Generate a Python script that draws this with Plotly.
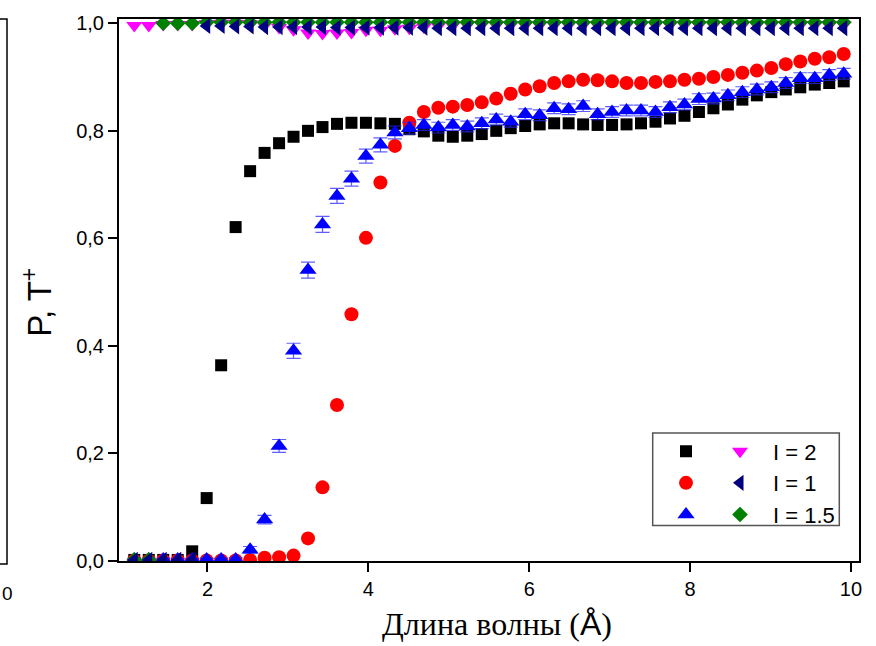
import plotly.graph_objects as go

# ---------------- data ----------------
wavelength = [1.09, 1.27, 1.45, 1.63, 1.81, 1.99, 2.17, 2.35, 2.53, 2.71,
              2.89, 3.07, 3.25, 3.43, 3.61, 3.79, 3.97, 4.15, 4.33, 4.51,
              4.69, 4.87, 5.05, 5.23, 5.41, 5.59, 5.77, 5.95, 6.13, 6.31,
              6.49, 6.67, 6.85, 7.03, 7.21, 7.39, 7.57, 7.75, 7.93, 8.11,
              8.29, 8.47, 8.65, 8.83, 9.01, 9.19, 9.37, 9.55, 9.73, 9.91]

# T+ curves (lower group)
t_l2 = [0.002, 0.002, 0.002, 0.002, 0.018, 0.117, 0.364, 0.621, 0.725, 0.759,
        0.777, 0.789, 0.800, 0.807, 0.813, 0.815, 0.815, 0.814, 0.813, 0.803,
        0.799, 0.791, 0.789, 0.791, 0.794, 0.800, 0.805, 0.809, 0.812, 0.814,
        0.814, 0.812, 0.811, 0.811, 0.812, 0.814, 0.817, 0.823, 0.828, 0.835,
        0.842, 0.849, 0.858, 0.866, 0.872, 0.877, 0.881, 0.886, 0.889, 0.892]

t_l1 = [0.001, 0.001, 0.001, 0.001, 0.001, 0.001, 0.001, 0.001, 0.002, 0.006,
        0.007, 0.010, 0.042, 0.137, 0.290, 0.459, 0.601, 0.704, 0.772, 0.815,
        0.835, 0.843, 0.845, 0.848, 0.853, 0.860, 0.869, 0.877, 0.883, 0.889,
        0.892, 0.895, 0.894, 0.892, 0.889, 0.889, 0.891, 0.892, 0.895, 0.897,
        0.900, 0.904, 0.908, 0.912, 0.917, 0.924, 0.929, 0.934, 0.937, 0.943]

t_l15 = [0.003, 0.003, 0.003, 0.003, 0.003, 0.003, 0.003, 0.003, 0.021, 0.077,
         0.214, 0.391, 0.541, 0.626, 0.679, 0.711, 0.753, 0.774, 0.797, 0.805,
         0.811, 0.806, 0.811, 0.808, 0.814, 0.821, 0.817, 0.831, 0.829, 0.842,
         0.840, 0.846, 0.831, 0.835, 0.838, 0.838, 0.835, 0.844, 0.849, 0.859,
         0.860, 0.866, 0.872, 0.877, 0.881, 0.889, 0.898, 0.898, 0.904, 0.906]

t_l15_err = [0.002, 0.002, 0.002, 0.002, 0.002, 0.002, 0.002, 0.003, 0.006, 0.008,
             0.012, 0.014, 0.015, 0.015, 0.014, 0.014, 0.013, 0.013, 0.012, 0.011,
             0.010, 0.010, 0.010, 0.010, 0.010, 0.010, 0.010, 0.010, 0.010, 0.010,
             0.010, 0.010, 0.010, 0.010, 0.010, 0.010, 0.010, 0.010, 0.010, 0.010,
             0.010, 0.010, 0.010, 0.010, 0.010, 0.010, 0.010, 0.010, 0.010, 0.010]

# P curves (upper group)
p_l2 = [0.996, 0.996, 0.998, 0.998, 0.998, 0.999, 1.000, 1.000, 0.999, 0.996,
        0.992, 0.988, 0.982, 0.981, 0.982, 0.983, 0.987, 0.987, 0.990, 0.991,
        0.993, 0.995, 0.996, 0.997, 0.998, 0.997, 0.997, 0.997, 0.997, 0.997,
        0.997, 0.997, 0.997, 0.997, 0.997, 0.997, 0.997, 0.997, 0.997, 0.997,
        0.997, 0.997, 0.997, 0.997, 0.997, 0.997, 0.997, 0.997, 0.997, 0.997]

p_l1 = [0.002, 0.002, 0.002, 0.002, 0.002, 0.995, 0.995, 0.994, 0.994, 0.993,
        0.993, 0.993, 0.993, 0.993, 0.992, 0.992, 0.992, 0.992, 0.992, 0.992,
        0.992, 0.991, 0.991, 0.991, 0.991, 0.991, 0.991, 0.991, 0.991, 0.991,
        0.991, 0.991, 0.991, 0.991, 0.991, 0.991, 0.991, 0.991, 0.991, 0.991,
        0.991, 0.991, 0.991, 0.991, 0.991, 0.991, 0.991, 0.991, 0.991, 0.991]

p_l15 = [0.002, 0.002, 1.000, 1.000, 1.000, 1.002, 1.002, 1.002, 1.002, 1.002,
         1.002, 1.002, 1.002, 1.002, 1.002, 1.002, 1.002, 1.002, 1.002, 1.002,
         1.002, 1.002, 1.002, 1.002, 1.002, 1.002, 1.002, 1.002, 1.002, 1.002,
         1.002, 1.002, 1.002, 1.002, 1.002, 1.002, 1.002, 1.002, 1.002, 1.002,
         1.002, 1.002, 1.002, 1.002, 1.002, 1.002, 1.002, 1.002, 1.002, 1.002]

p_err = [0.004] * 50

x_ticks = [2, 4, 6, 8, 10]
x_ticktext = ["2", "4", "6", "8", "10"]
y_ticks = [0.0, 0.2, 0.4, 0.6, 0.8, 1.0]
y_ticktext = ["0,0", "0,2", "0,4", "0,6", "0,8", "1,0"]

legend_labels = ["I = 2", "I = 1", "I = 1.5"]

# ---------------- geometry helpers ----------------
W, H = 876, 646
ML, MR, MT, MB = 119, 17, 13, 85
PW, PH = W - ML - MR, H - MT - MB


def px(xp):
    return (xp - ML) / PW


def py(yp):
    return (H - MB - yp) / PH


fig = go.Figure()


def add(y, name, symbol, color, size, legend, rank, err=None, errcolor=None,
        errwidth=7, errthick=1.2):
    kw = {}
    if err is not None:
        kw["error_y"] = dict(type="data", array=err, visible=True,
                             color=errcolor or color, thickness=errthick,
                             width=errwidth)
    fig.add_trace(go.Scatter(
        x=wavelength, y=y, mode="markers", name=name,
        marker=dict(symbol=symbol, color=color, size=size,
                    line=dict(width=0)),
        legend=legend, legendrank=rank, **kw))


add(t_l2, " ", "square", "black", 12, "legend", 1)
add(t_l1, " ", "circle", "#ff0000", 14, "legend", 2)
add(t_l15, " ", "triangle-up", "#0000ff", 15, "legend", 3,
    err=t_l15_err, errcolor="rgba(40,40,255,0.75)")
add(p_l2, legend_labels[0], "triangle-down", "#ff00ff", 14, "legend2", 1,
    err=p_err, errwidth=3, errthick=1)
add(p_l15, legend_labels[2], "diamond", "#008000", 12, "legend2", 3,
    err=p_err, errwidth=3, errthick=1)
add(p_l1, legend_labels[1], "triangle-left", "#000080", 14, "legend2", 2,
    err=p_err, errwidth=3, errthick=1)

axis_common = dict(showline=True, linecolor="black", linewidth=2,
                   mirror=True, ticks="outside", ticklen=9, tickwidth=2,
                   tickcolor="black", showgrid=False, zeroline=False,
                   tickfont=dict(family="Liberation Sans, Arial", size=20,
                                 color="black"))

LEG_FONT = dict(family="Liberation Sans, Arial", size=22, color="black")

fig.update_layout(
    width=W, height=H,
    margin=dict(l=ML, r=MR, t=MT, b=MB),
    paper_bgcolor="white", plot_bgcolor="white",
    xaxis=dict(range=[0.9, 10.1], tickvals=x_ticks, ticktext=x_ticktext,
               **axis_common),
    yaxis=dict(range=[0.0, 1.008], tickvals=y_ticks, ticktext=y_ticktext,
               **axis_common),
    legend=dict(x=px(666), y=py(429), xanchor="left", yanchor="top",
                bgcolor="rgba(0,0,0,0)", borderwidth=0, itemwidth=30,
                font=LEG_FONT, tracegroupgap=0, itemclick=False),
    legend2=dict(x=px(707), y=py(429), xanchor="left", yanchor="top",
                 bgcolor="rgba(0,0,0,0)", borderwidth=0, itemwidth=56,
                 font=LEG_FONT, tracegroupgap=0, itemclick=False),
    showlegend=True,
)

# legend frame
fig.add_shape(type="rect", xref="paper", yref="paper",
              x0=px(652.7), x1=px(839.3), y0=py(525), y1=py(431.7),
              line=dict(color="#555555", width=1.5), fillcolor="rgba(0,0,0,0)")

# fragment of neighbouring panel on the left edge
fig.add_shape(type="path", xref="paper", yref="paper",
              path=f"M {px(0)},{py(13)} L {px(7)},{py(13)} L {px(7)},{py(564)} L {px(0)},{py(564)}",
              line=dict(color="black", width=1.5))
fig.add_annotation(text="0", xref="paper", yref="paper", x=px(0), y=py(594),
                   xanchor="left", yanchor="middle", showarrow=False,
                   font=dict(family="Liberation Sans, Arial", size=19,
                             color="black"))

# axis titles
fig.add_annotation(text="P, T<sup>+</sup>", xref="paper", yref="paper",
                   x=px(37), y=py(300), textangle=-90, showarrow=False,
                   xanchor="center", yanchor="middle",
                   font=dict(family="Liberation Sans, Arial", size=33,
                             color="black"))
fig.add_annotation(text="Длина волны (<span style='font-family:Liberation Sans'>Å</span>)",
                   xref="paper", yref="paper",
                   x=px(497), y=py(625), showarrow=False,
                   xanchor="center", yanchor="middle",
                   font=dict(family="Liberation Serif, Times New Roman",
                             size=32, color="black"))

fig.write_html("out.html")
